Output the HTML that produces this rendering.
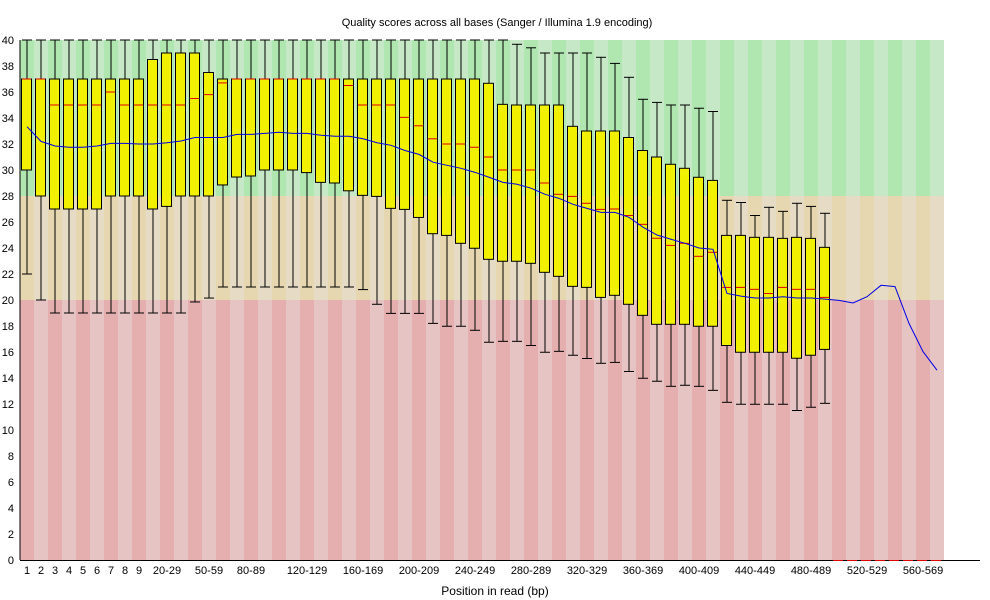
<!DOCTYPE html>
<html><head><meta charset="utf-8"><style>
html,body{margin:0;padding:0;background:#fff;}
svg{display:block;font-family:"Liberation Sans","DejaVu Sans",sans-serif;}
</style></head><body>
<svg id="c" width="990" height="600" xmlns="http://www.w3.org/2000/svg"></svg>
<script>
var D=[[40,37,37,30,22],[40,37,37,28,20],[40,37,35,27,19],[40,37,35,27,19],[40,37,35,27,19],[40,37,35,27,19],[40,37,36,28,19],[40,37,35,28,19],[40,37,35,28,19],[40,38.5,35,27,19],
[40,39,35,27.2,19],[40,39,35,28,19],[40,39,35.5,28,19.85],[40,37.5,35.8,28,20.15],[40,37,36.7,28.85,21],[40,37,37,29.46,21],[40,37,37,29.54,21],[40,37,37,30,21],[40,37,37,30,21],[40,37,37,30,21],
[40,37,37,29.8,21],[40,37,37,29.05,21],[40,37,37,29,21],[40,37,36.5,28.4,21],[40,37,35,28.05,20.8],[40,37,35,27.97,19.67],[40,37,35,27.05,18.97],[40,37,34.05,26.97,18.97],[40,37,33.4,26.35,18.97],[40,37,32.4,25.1,18.2],
[40,37,32,24.97,17.98],[40,37,32,24.36,17.98],[40,37,31.75,23.98,17.67],[40,36.67,31,23.13,16.75],[40,35.05,30,22.98,16.82],[39.67,35,30,22.98,16.82],[39.4,35,30,22.82,16.5],[39,35,29,22.13,15.98],[39,35,28.13,21.82,16.05],[39,33.36,27.97,21.05,15.75],
[39,33,27.44,20.97,15.5],[38.67,33,26.97,20.2,15.13],[38.2,33,27,20.36,15.2],[37.13,32.5,26.5,19.67,14.5],[35.44,31.5,25.82,18.82,13.98],[35.2,31,24.75,18.13,13.75],[35,30.44,24.2,18.13,13.36],[35,30.13,24.36,18.13,13.44],[34.75,29.44,23.36,17.98,13.36],[34.5,29.2,23.67,17.98,13.05],
[27.67,24.97,20.97,16.5,12.13],[27.5,24.97,20.97,15.98,11.98],[26.5,24.82,20.82,15.98,11.98],[27.13,24.82,20.5,15.98,11.98],[26.82,24.74,20.97,15.98,11.98],[27.44,24.82,20.82,15.52,11.5],[27.2,24.74,20.82,15.75,11.75],[26.67,24.05,20.2,16.2,12.05]];
var M=[33.33,32.2,31.85,31.75,31.75,31.85,32.05,32.05,32,32,32.1,32.23,32.5,32.5,32.5,32.74,32.74,32.82,32.9,32.82,32.82,32.67,32.6,32.6,32.4,32.1,31.9,31.5,31.2,30.6,30.36,30.13,29.82,29.44,29.05,28.9,28.6,28.13,27.82,27.36,27.05,26.74,26.74,26.36,25.6,25.0,24.67,24.36,24.0,23.9,20.5,20.3,20.15,20.15,20.25,20.15,20.15,20.07,19.97,19.77,20.25,21.13,21.03,18.2,16.03,14.6];
function Y(v){return 560-13*v;}
var s='';
for(var i=0;i<66;i++){var x=20+14*i,d=i%2==0;
s+='<rect x="'+x+'" y="40" width="14" height="156" fill="'+(d?'#b0e6b0':'#c6e8c6')+'"/>';
s+='<rect x="'+x+'" y="196" width="14" height="104" fill="'+(d?'#e6d7b0':'#e6dcc6')+'"/>';
s+='<rect x="'+x+'" y="300" width="14" height="260" fill="'+(d?'#e6afaf':'#e6c4c4')+'"/>';}
for(var i=0;i<D.length;i++){var d=D[i],c=27+14*i,x=21+14*i;
s+='<line x1="'+c+'" y1="'+Y(d[0])+'" x2="'+c+'" y2="'+Y(d[4])+'" stroke="#000"/>';
s+='<line x1="'+(c-5)+'" y1="'+Y(d[0])+'" x2="'+(c+5)+'" y2="'+Y(d[0])+'" stroke="#000"/>';
s+='<line x1="'+(c-5)+'" y1="'+Y(d[4])+'" x2="'+(c+5)+'" y2="'+Y(d[4])+'" stroke="#000"/>';
s+='<rect x="'+(x+0.5)+'" y="'+Y(d[1])+'" width="10" height="'+(Y(d[3])-Y(d[1]))+'" fill="#f0f000" stroke="#000"/>';
s+='<line x1="'+(x+1)+'" y1="'+Y(d[2])+'" x2="'+(x+10)+'" y2="'+Y(d[2])+'" stroke="#e00000"/>';}
var p='';for(var i=0;i<M.length;i++)p+=(27+14*i)+','+Y(M[i])+' ';
s+='<polyline points="'+p+'" fill="none" stroke="#0000e6" stroke-width="1"/>';
s+='<line x1="20" y1="40" x2="20" y2="560" stroke="#000"/><line x1="20" y1="560.5" x2="980" y2="560.5" stroke="#000"/>';
for(var i=58;i<66;i++){var x=21+14*i;s+='<line x1="'+x+'" y1="560.5" x2="'+(x+10)+'" y2="560.5" stroke="#e00000"/>';}
for(var v=0;v<=40;v+=2)s+='<text x="14" y="'+(Y(v)+4)+'" font-size="11" text-anchor="end">'+v+'</text>';
var L={0:'1',1:'2',2:'3',3:'4',4:'5',5:'6',6:'7',7:'8',8:'9'};
var bb=[[10,'20-29'],[13,'50-59'],[16,'80-89'],[20,'120-129'],[24,'160-169'],[28,'200-209'],[32,'240-249'],[36,'280-289'],[40,'320-329'],[44,'360-369'],[48,'400-409'],[52,'440-449'],[56,'480-489'],[60,'520-529'],[64,'560-569']];
for(var k in L)s+='<text x="'+(27+14*k)+'" y="574" font-size="11" text-anchor="middle">'+L[k]+'</text>';
bb.forEach(function(b){s+='<text x="'+(27+14*b[0])+'" y="574" font-size="11" text-anchor="middle">'+b[1]+'</text>';});
s+='<text x="497" y="26" font-size="11" text-anchor="middle">Quality scores across all bases (Sanger / Illumina 1.9 encoding)</text>';
s+='<text x="495" y="595" font-size="12" text-anchor="middle">Position in read (bp)</text>';
document.getElementById('c').innerHTML=s;
</script>
</body></html>
